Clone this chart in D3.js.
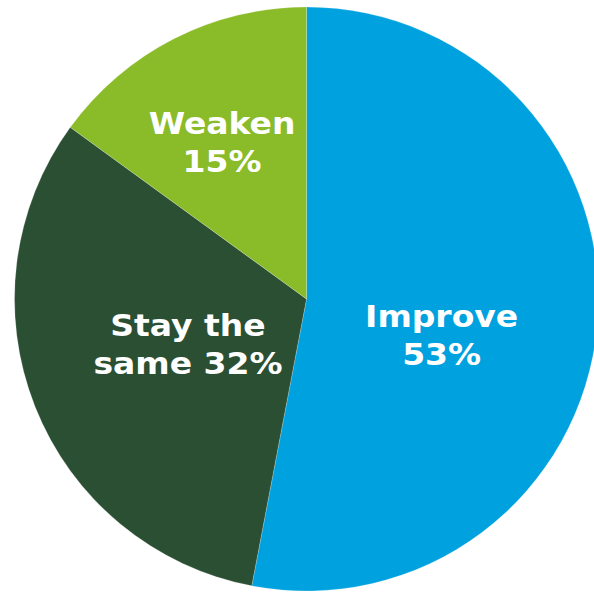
<!DOCTYPE html>
<html>
<head>
<meta charset="utf-8">
<script src="https://cdn.jsdelivr.net/npm/d3@7"></script>
<style>
  html, body { margin: 0; padding: 0; background: #ffffff; overflow: hidden; }
  svg { display: block; }
</style>
</head>
<body>
<svg id="chart" width="594" height="592"></svg>
<script>
// Outlook responses, clockwise from 12 o'clock
const categories = ["Improve", "Stay the same", "Weaken"];
const shares = [53, 32, 15];
const labelLines = [
  ["Improve", "53%"],
  ["Stay the", "same 32%"],
  ["Weaken", "15%"]
];
const sliceColors = ["#00a1df", "#2b4f33", "#8abb28"];

const width = 594, height = 592;
const cx = 306.5, cy = 299, radius = 292;

const svg = d3.select("#chart");
const g = svg.append("g").attr("transform", `translate(${cx},${cy})`);

const color = d3.scaleOrdinal().domain(categories).range(sliceColors);

const pie = d3.pie().sort(null).value(d => d.value);
const data = categories.map((c, i) => ({ name: c, value: shares[i], lines: labelLines[i] }));
const arcs = pie(data);

const arc = d3.arc().innerRadius(0).outerRadius(radius);

g.selectAll("path.slice")
  .data(arcs)
  .enter().append("path")
  .attr("class", "slice")
  .attr("d", arc)
  .attr("fill", d => color(d.data.name))
  .attr("stroke", "rgba(255,255,255,0.35)")
  .attr("stroke-width", 0.6);

// label placement: distance from centre and angular nudge per slice
const labelLayout = {
  "Improve": { r: 140, shift: 0.17 },
  "Stay the same": { r: 127, shift: 0.01 },
  "Weaken": { r: 178, shift: -0.023 }
};

const fontSize = 30, lineGap = 38;

const labels = g.selectAll("text.label")
  .data(arcs)
  .enter().append("text")
  .attr("class", "label")
  .attr("text-anchor", "middle")
  .attr("fill", "#ffffff")
  .attr("font-family", "'DejaVu Sans', Verdana, sans-serif")
  .attr("font-weight", "bold")
  .attr("font-size", fontSize)
  .attr("transform", d => {
    const lay = labelLayout[d.data.name];
    const a = (d.startAngle + d.endAngle) / 2 + lay.shift;
    const x = Math.sin(a) * lay.r;
    const y = -Math.cos(a) * lay.r;
    return `translate(${x},${y}) scale(1.1,1)`;
  });

labels.selectAll("tspan")
  .data(d => d.data.lines.map((t, i, arr) => ({ t, i, n: arr.length })))
  .enter().append("tspan")
  .attr("x", 0)
  .attr("y", d => (d.i - (d.n - 1) / 2) * lineGap + fontSize * 0.36)
  .text(d => d.t);
</script>
</body>
</html>
